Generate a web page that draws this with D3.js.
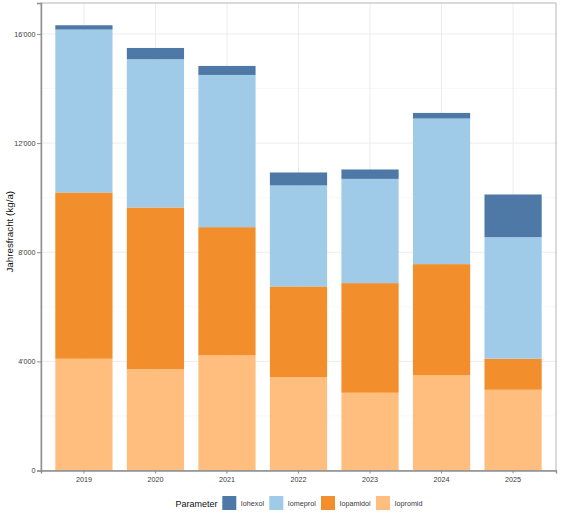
<!DOCTYPE html>
<html>
<head>
<meta charset="utf-8">
<script src="https://cdn.jsdelivr.net/npm/d3@7"></script>
<style>
  body { margin: 0; background: #fff; }
  text { font-family: "Liberation Sans", Arial, sans-serif; }
</style>
</head>
<body>
<svg id="chart" width="561" height="520"></svg>
<script>
// jahresfracht per parameter, kg/a
var years = ['2019', '2020', '2021', '2022', '2023', '2024', '2025'];
var parameters = ['Iohexol', 'Iomeprol', 'Iopamidol', 'Iopromid'];
var iopromid = [4095, 3707, 4220, 3425, 2850, 3498, 2960];
var iopamidol = [6095, 5934, 4699, 3322, 4018, 4066, 1135];
var iomeprol = [5971, 5432, 5579, 3700, 3821, 5337, 4458];
var iohexol = [158, 414, 330, 476, 344, 205, 1564];
var yTicks = [0, 4000, 8000, 12000, 16000];
var yMinor = [2000, 6000, 10000, 14000];

var colors = {
  Iohexol: '#4e79a7',
  Iomeprol: '#a0cbe8',
  Iopamidol: '#f28e2b',
  Iopromid: '#ffbe7d'
};

var rows = years.map(function(y, i) {
  return {
    year: y,
    Iopromid: iopromid[i],
    Iopamidol: iopamidol[i],
    Iomeprol: iomeprol[i],
    Iohexol: iohexol[i]
  };
});

// stacking order bottom -> top
var stack = d3.stack().keys(['Iopromid', 'Iopamidol', 'Iomeprol', 'Iohexol']);
var series = stack(rows);

var margin = { left: 41, top: 3, right: 5, bottom: 50 };
var width = 561, height = 520;
var x0 = margin.left, x1 = width - margin.right;
var y0 = 470.5, y1 = margin.top;

var maxTotal = d3.max(series[series.length - 1], function(d) { return d[1]; });

var x = d3.scaleBand()
  .domain(years)
  .range([x0, x1])
  .paddingInner(0.2)
  .paddingOuter(0.2);

var y = d3.scaleLinear()
  .domain([0, maxTotal * 1.05])
  .range([y0, y1]);

var fmt = d3.formatLocale({ decimal: '.', thousands: "'", grouping: [3], currency: ['', ''] }).format(',');

var svg = d3.select('#chart');

// grid
var grid = svg.append('g');
grid.selectAll('line.minor')
  .data(yMinor)
  .enter().append('line')
  .attr('x1', x0).attr('x2', x1)
  .attr('y1', function(d) { return y(d); })
  .attr('y2', function(d) { return y(d); })
  .attr('stroke', '#f4f4f4')
  .attr('stroke-width', 0.6);
grid.selectAll('line.major')
  .data(yTicks)
  .enter().append('line')
  .attr('x1', x0).attr('x2', x1)
  .attr('y1', function(d) { return y(d); })
  .attr('y2', function(d) { return y(d); })
  .attr('stroke', '#ececec')
  .attr('stroke-width', 1);
grid.selectAll('line.vert')
  .data(years)
  .enter().append('line')
  .attr('x1', function(d) { return x(d) + x.bandwidth() / 2; })
  .attr('x2', function(d) { return x(d) + x.bandwidth() / 2; })
  .attr('y1', y1).attr('y2', y0)
  .attr('stroke', '#ececec')
  .attr('stroke-width', 1);

// bars
svg.append('g')
  .selectAll('g')
  .data(series)
  .enter().append('g')
  .attr('fill', function(s) { return colors[s.key]; })
  .selectAll('rect')
  .data(function(s) { return s; })
  .enter().append('rect')
  .attr('x', function(d) { return x(d.data.year); })
  .attr('width', x.bandwidth())
  .attr('y', function(d) { return y(d[1]); })
  .attr('height', function(d) { return y(d[0]) - y(d[1]); });

// panel border
svg.append('rect')
  .attr('x', x0).attr('y', y1)
  .attr('width', x1 - x0).attr('height', y0 - y1)
  .attr('fill', 'none')
  .attr('stroke', '#b5b5b5')
  .attr('stroke-width', 1);

// axes
var yAxis = svg.append('g')
  .attr('transform', 'translate(' + x0 + ',0)')
  .call(d3.axisLeft(y).tickValues(yTicks).tickFormat(fmt).tickSize(4).tickPadding(1.5));
var xAxis = svg.append('g')
  .attr('transform', 'translate(0,' + y0 + ')')
  .call(d3.axisBottom(x).tickSize(3).tickPadding(3));

[yAxis, xAxis].forEach(function(a) {
  a.select('.domain').attr('stroke', '#8e8e8e').attr('stroke-width', 1.4);
  a.selectAll('.tick line').attr('stroke', '#8e8e8e');
  a.selectAll('.tick text')
    .attr('fill', '#3a3a3a')
    .style('font-size', '7.2px')
    .style('font-family', '"Liberation Sans", Arial, sans-serif');
});

// y title
svg.append('text')
  .attr('transform', 'translate(12.5,' + ((y0 + y1) / 2 - 5) + ') rotate(-90)')
  .attr('text-anchor', 'middle')
  .style('font-size', '9.8px')
  .attr('fill', '#111')
  .text('Jahresfracht (kg/a)');

// legend
var legend = svg.append('g').attr('transform', 'translate(0,503)');
legend.append('text')
  .attr('x', 175.5).attr('y', 3.5)
  .style('font-size', '9px')
  .attr('fill', '#111')
  .text('Parameter');

var legendX = [222.3, 269.3, 321, 376];
var item = legend.selectAll('g.item')
  .data(parameters)
  .enter().append('g')
  .attr('transform', function(d, i) { return 'translate(' + legendX[i] + ',0)'; });
item.append('rect')
  .attr('x', 0).attr('y', -7)
  .attr('width', 14).attr('height', 14)
  .attr('fill', function(d) { return colors[d]; });
item.append('text')
  .attr('x', 18.5).attr('y', 2.8)
  .style('font-size', '7.2px')
  .attr('fill', '#3a3a3a')
  .text(function(d) { return d; });
</script>
</body>
</html>
